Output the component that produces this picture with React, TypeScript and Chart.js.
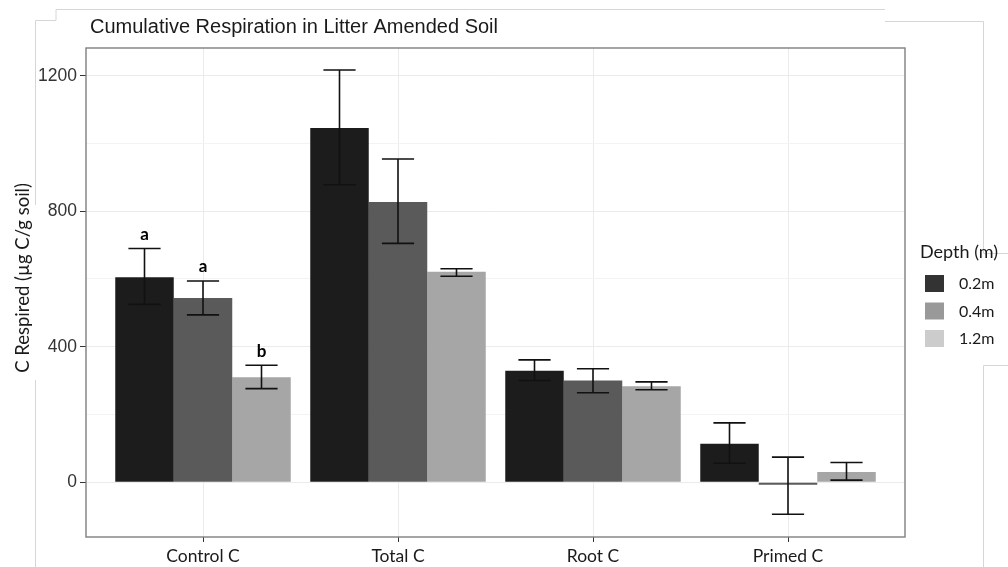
import React, { useEffect, useRef } from 'react';
import { Chart, registerables } from 'chart.js';
Chart.register(...registerables);

const categories = ['Control C', 'Total C', 'Root C', 'Primed C'];
const depths = ['0.2m', '0.4m', '1.2m'];
const mean02 = [605, 1046, 329, 113];
const mean04 = [544, 827, 300, -8];
const mean12 = [310, 621, 283, 30];
const low02 = [525, 878, 300, 56];
const high02 = [690, 1217, 361, 175];
const low04 = [494, 705, 264, -95];
const high04 = [594, 954, 335, 74];
const low12 = [276, 608, 273, 6];
const high12 = [345, 630, 296, 58];
const controlLetters = ['a', 'a', 'b'];
const barColors = ['#1c1c1c', '#5a5a5a', '#a6a6a6'];
const legendColors = ['#333333', '#999999', '#cccccc'];
const titleText = 'Cumulative Respiration in Litter Amended Soil';
const yLabel = 'C Respired (µg C/g soil)';
const legendTitle = 'Depth (m)';

const means = [mean02, mean04, mean12];
const lows = [low02, low04, low12];
const highs = [high02, high04, high12];

const decorPlugin = {
  id: 'decor',
  beforeDraw(chart: any) {
    const ctx = chart.ctx;
    ctx.save();
    ctx.fillStyle = '#ffffff';
    ctx.fillRect(0, 0, chart.width, chart.height);
    ctx.strokeStyle = '#d6d6d6';
    ctx.lineWidth = 1;
    const segs = [
      [[56, 9.5], [885, 9.5]],
      [[56, 9.5], [56, 20.5]],
      [[35.5, 20.5], [56, 20.5]],
      [[35.5, 20.5], [35.5, 205]],
      [[35.5, 380], [35.5, 567]],
      [[885, 21.5], [983.5, 21.5]],
      [[983.5, 21.5], [983.5, 253]],
      [[983.5, 253.5], [1008, 253.5]],
      [[983.5, 365.5], [1008, 365.5]],
      [[983.5, 365.5], [983.5, 567]],
    ];
    for (const s of segs) {
      ctx.beginPath();
      ctx.moveTo(s[0][0], s[0][1]);
      ctx.lineTo(s[1][0], s[1][1]);
      ctx.stroke();
    }
    ctx.restore();
  },
  afterDatasetsDraw(chart: any) {
    const ctx = chart.ctx;
    const yScale = chart.scales.y;
    ctx.save();
    ctx.strokeStyle = '#111111';
    ctx.lineWidth = 1.6;
    chart.data.datasets.forEach((ds: any, di: number) => {
      const meta = chart.getDatasetMeta(di);
      meta.data.forEach((el: any, i: number) => {
        const x = el.x;
        const half = el.width * 0.275;
        const yHi = yScale.getPixelForValue(highs[di][i]);
        const yLo = yScale.getPixelForValue(lows[di][i]);
        ctx.beginPath();
        ctx.moveTo(x, yHi);
        ctx.lineTo(x, yLo);
        ctx.moveTo(x - half, yHi);
        ctx.lineTo(x + half, yHi);
        ctx.moveTo(x - half, yLo);
        ctx.lineTo(x + half, yLo);
        ctx.stroke();
        if (i === 0) {
          ctx.fillStyle = '#000000';
          ctx.font = 'bold 17px Lato';
          ctx.textAlign = 'center';
          ctx.textBaseline = 'middle';
          ctx.fillText(controlLetters[di], x, yHi - 14);
        }
      });
    });
    ctx.restore();
  },
  afterDraw(chart: any) {
    const ctx = chart.ctx;
    const a = chart.chartArea;
    ctx.save();
    ctx.strokeStyle = '#7f7f7f';
    ctx.lineWidth = 1.4;
    ctx.strokeRect(a.left, a.top, a.right - a.left, a.bottom - a.top);
    // title
    ctx.fillStyle = '#1a1a1a';
    ctx.font = '20px "Liberation Sans"';
    ctx.textAlign = 'left';
    ctx.textBaseline = 'alphabetic';
    ctx.fillText(titleText, 90, 33);
    // y label
    ctx.save();
    ctx.translate(23, 278);
    ctx.rotate(-Math.PI / 2);
    ctx.font = '18.5px Lato';
    ctx.textAlign = 'center';
    ctx.textBaseline = 'middle';
    ctx.fillStyle = '#1a1a1a';
    ctx.fillText(yLabel, 0, 0);
    ctx.restore();
    // legend
    ctx.font = '18px Lato';
    ctx.textAlign = 'left';
    ctx.textBaseline = 'middle';
    ctx.fillStyle = '#1a1a1a';
    ctx.fillText(legendTitle, 920, 252);
    const tops = [275, 302.5, 330];
    depths.forEach((d, i) => {
      ctx.fillStyle = legendColors[i];
      ctx.fillRect(925, tops[i], 19, 17);
      ctx.fillStyle = '#1a1a1a';
      ctx.font = '16px Lato';
      ctx.fillText(d, 959, tops[i] + 9);
    });
    ctx.restore();
  },
};

export default function App() {
  const ref = useRef<HTMLCanvasElement | null>(null);
  useEffect(() => {
    if (!ref.current) return;
    const chart = new Chart(ref.current, {
      type: 'bar',
      data: {
        datasets: depths.map((d, di) => ({
          label: d,
          data: means[di].map((v, i) => ({ x: i + 1, y: v })),
          backgroundColor: barColors[di],
          borderWidth: 0,
          categoryPercentage: 0.9,
          barPercentage: 1.0,
        })),
      },
      options: {
        responsive: false,
        animation: false,
        devicePixelRatio: 1,
        layout: { padding: { top: 48, right: 103, left: 0, bottom: 0 } },
        plugins: { legend: { display: false }, tooltip: { enabled: false }, title: { display: false } },
        scales: {
          x: {
            type: 'linear',
            min: 0.4,
            max: 4.6,
            offset: false,
            afterBuildTicks: (scale: any) => {
              scale.ticks = categories.map((_, i) => ({ value: i + 1 }));
            },
            afterFit: (scale: any) => {
              scale.height = 30;
            },
            ticks: {
              callback: (v: any) => categories[Number(v) - 1] ?? '',
              font: { family: 'Lato', size: 17.5 },
              color: '#1a1a1a',
              padding: 4,
              maxRotation: 0,
              autoSkip: false,
            },
            grid: { offset: false, color: '#ebebeb', lineWidth: 1, tickColor: '#333333', tickLength: 5, drawTicks: true },
            border: { display: false },
          },
          y: {
            type: 'linear',
            min: -162,
            max: 1282,
            afterFit: (scale: any) => {
              scale.width = 86;
            },
            ticks: {
              stepSize: 200,
              includeBounds: false,
              callback: (v: any) => (Number(v) % 400 === 0 ? String(v) : ''),
              font: { family: '"Liberation Sans"', size: 17.5 },
              color: '#333333',
              padding: 3,
            },
            grid: {
              color: (c: any) => (c.tick && c.tick.value % 400 === 0 ? '#ebebeb' : '#f3f3f3'),
              tickColor: (c: any) => (c.tick && c.tick.value % 400 === 0 ? '#333333' : 'rgba(0,0,0,0)'),
              tickLength: 6,
              lineWidth: 1,
            },
            border: { display: false },
          },
        },
      },
      plugins: [decorPlugin],
    } as any);
    return () => chart.destroy();
  }, []);
  return (
    <div style={{ position: 'fixed', left: 0, top: 0, width: 1008, height: 567, background: '#fff' }}>
      <canvas ref={ref} width={1008} height={567} style={{ width: 1008, height: 567, display: 'block' }} />
    </div>
  );
}
